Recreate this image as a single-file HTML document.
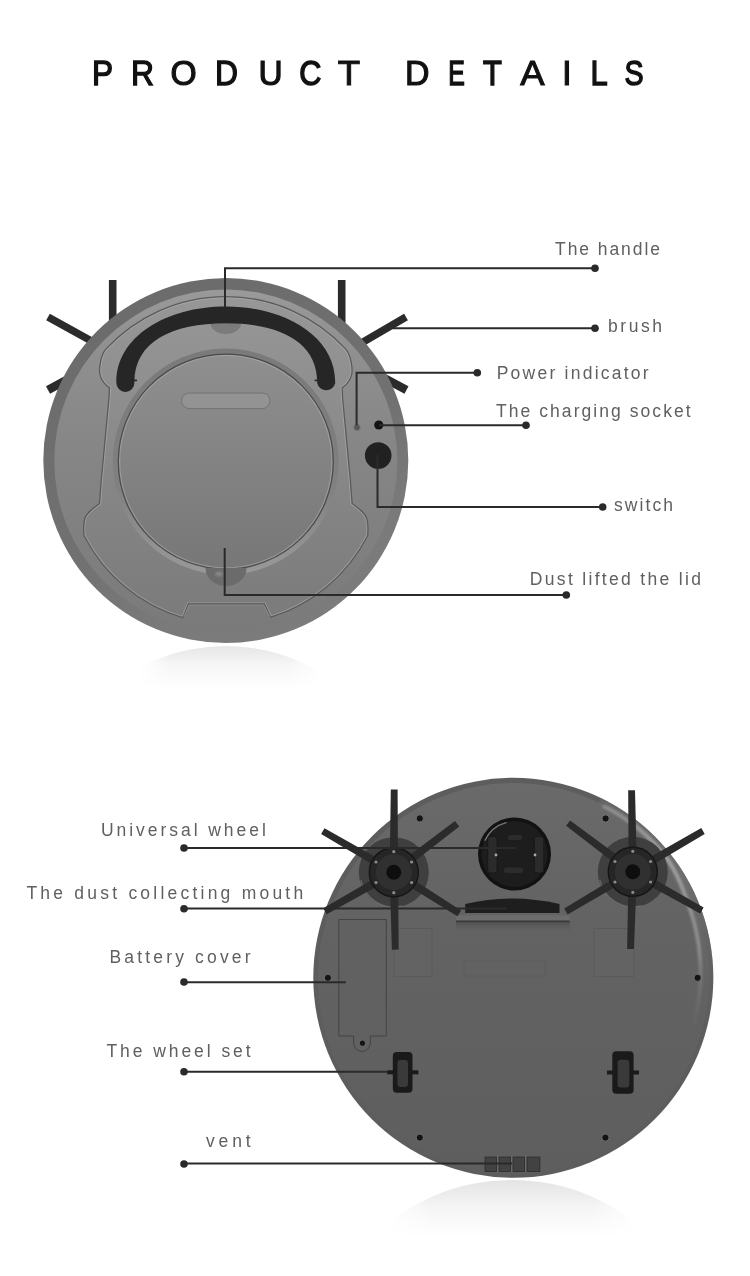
<!DOCTYPE html>
<html><head><meta charset="utf-8">
<style>
html,body{margin:0;padding:0;background:#fff;}
body{width:750px;height:1276px;overflow:hidden;position:relative;font-family:"Liberation Sans",sans-serif;}
svg{position:absolute;left:0;top:0;filter:grayscale(1);}
</style></head>
<body>
<svg width="750" height="1276" viewBox="0 0 750 1276">
<defs>
  <linearGradient id="hlG2" gradientUnits="userSpaceOnUse" x1="599.2" y1="801.6" x2="697.5" y2="1044.8">
    <stop offset="0" stop-color="#6c6c6c" stop-opacity="0.5"/>
    <stop offset="0.4" stop-color="#6e6e6e" stop-opacity="1"/>
    <stop offset="1" stop-color="#626262" stop-opacity="0"/>
  </linearGradient>
  <linearGradient id="shadeDown" x1="0" y1="0" x2="0" y2="1">
    <stop offset="0" stop-color="#4e4e4e" stop-opacity="0.8"/>
    <stop offset="1" stop-color="#5e5e5e" stop-opacity="0"/>
  </linearGradient>
  <linearGradient id="hfadeT" x1="0" y1="0" x2="1" y2="0">
    <stop offset="0" stop-color="#000"/>
    <stop offset="0.18" stop-color="#fff"/>
    <stop offset="0.82" stop-color="#fff"/>
    <stop offset="1" stop-color="#000"/>
  </linearGradient>
  <linearGradient id="hlG" gradientUnits="userSpaceOnUse" x1="604.4" y1="806.5" x2="692.1" y2="1029.1">
    <stop offset="0" stop-color="#9a9a9a" stop-opacity="0.7"/>
    <stop offset="0.3" stop-color="#a0a0a0" stop-opacity="1"/>
    <stop offset="0.7" stop-color="#8e8e8e" stop-opacity="0.9"/>
    <stop offset="1" stop-color="#7a7a7a" stop-opacity="0"/>
  </linearGradient>
  <filter id="blur1" x="-0.2" y="-0.2" width="1.4" height="1.4"><feGaussianBlur stdDeviation="0.8"/></filter>

  <linearGradient id="hfade" x1="0" y1="0" x2="1" y2="0">
    <stop offset="0" stop-color="#000"/>
    <stop offset="0.3" stop-color="#fff"/>
    <stop offset="0.7" stop-color="#fff"/>
    <stop offset="1" stop-color="#000"/>
  </linearGradient>
  <mask id="mTop" maskUnits="userSpaceOnUse" x="0" y="0" width="750" height="1276">
    <rect x="138" y="640" width="184" height="60" fill="url(#hfadeT)"/>
  </mask>
  <mask id="mBot" maskUnits="userSpaceOnUse" x="0" y="0" width="750" height="1276">
    <rect x="385" y="1175" width="255" height="65" fill="url(#hfadeT)"/>
  </mask>

  <linearGradient id="botG" x1="0" y1="0" x2="0" y2="1">
    <stop offset="0" stop-color="#6a6a6a"/>
    <stop offset="0.35" stop-color="#636363"/>
    <stop offset="1" stop-color="#5e5e5e"/>
  </linearGradient>
  <linearGradient id="reflBot" gradientUnits="userSpaceOnUse" x1="0" y1="1180" x2="0" y2="1236">
    <stop offset="0" stop-color="#e4e4e4"/>
    <stop offset="0.5" stop-color="#f5f5f5"/>
    <stop offset="1" stop-color="#ffffff"/>
  </linearGradient>

  <linearGradient id="rimG" x1="0.25" y1="0" x2="0.75" y2="1">
    <stop offset="0" stop-color="#6b6b6b"/>
    <stop offset="0.55" stop-color="#717171"/>
    <stop offset="0.8" stop-color="#7a7a7a"/>
    <stop offset="1" stop-color="#7c7c7c"/>
  </linearGradient>
  <linearGradient id="bodyG" x1="0" y1="0" x2="0" y2="1">
    <stop offset="0" stop-color="#9a9a9a"/>
    <stop offset="0.12" stop-color="#929292"/>
    <stop offset="0.45" stop-color="#868686"/>
    <stop offset="1" stop-color="#7a7a7a"/>
  </linearGradient>
  <linearGradient id="panelG" x1="0" y1="0" x2="0" y2="1">
    <stop offset="0" stop-color="#979797"/>
    <stop offset="0.35" stop-color="#8d8d8d"/>
    <stop offset="0.7" stop-color="#838383"/>
    <stop offset="1" stop-color="#7b7b7b"/>
  </linearGradient>
  <linearGradient id="lidRingG" x1="0" y1="0" x2="0" y2="1">
    <stop offset="0" stop-color="#7a7a7a"/>
    <stop offset="0.6" stop-color="#808080"/>
    <stop offset="1" stop-color="#999999"/>
  </linearGradient>
  <linearGradient id="lidG" x1="0" y1="0" x2="0" y2="1">
    <stop offset="0" stop-color="#8f8f8f"/>
    <stop offset="1" stop-color="#777777"/>
  </linearGradient>
  <linearGradient id="reflTop" gradientUnits="userSpaceOnUse" x1="0" y1="646" x2="0" y2="689">
    <stop offset="0" stop-color="#e6e6e6"/>
    <stop offset="0.45" stop-color="#f6f6f6"/>
    <stop offset="1" stop-color="#ffffff"/>
  </linearGradient>

  <radialGradient id="shadowTop" cx="0.5" cy="0.2" r="0.6">
    <stop offset="0" stop-color="#e6e6e6"/>
    <stop offset="1" stop-color="#ffffff"/>
  </radialGradient>
</defs>

<!-- TITLE -->
<g font-family="Liberation Sans" font-size="35" fill="#111" stroke="#111" stroke-width="1.1" text-anchor="middle">
  <text x="102.5" y="84.8" transform="translate(102.5,0) scale(0.900,1) translate(-102.5,0)" stroke-width="1.40">P</text>
  <text x="142.5" y="84.8" transform="translate(142.5,0) scale(0.909,1) translate(-142.5,0)" stroke-width="1.37">R</text>
  <text x="183.5" y="84.8" transform="translate(183.0,0) scale(0.962,1) translate(-183.0,0)" stroke-width="1.21">O</text>
  <text x="226.5" y="84.8" transform="translate(226.5,0) scale(0.909,1) translate(-226.5,0)" stroke-width="1.37">D</text>
  <text x="270.5" y="84.8" transform="translate(270.0,0) scale(0.955,1) translate(-270.0,0)" stroke-width="1.24">U</text>
  <text x="310.5" y="84.8" transform="translate(310.0,0) scale(0.875,1) translate(-310.0,0)" stroke-width="1.48">C</text>
  <text x="349.0" y="84.8" transform="translate(348.5,0) scale(1.048,1) translate(-348.5,0)" stroke-width="0.96">T</text>
  <text x="417.2" y="84.8" transform="translate(417.2,0) scale(0.970,1) translate(-417.2,0)" stroke-width="1.19">D</text>
  <text x="456.4" y="84.8" transform="translate(456.9,0) scale(0.710,1) translate(-456.9,0)" stroke-width="1.5">E</text>
  <text x="492.5" y="84.8" transform="translate(492.0,0) scale(0.882,1) translate(-492.0,0)" stroke-width="1.45">T</text>
  <text x="532.5" y="84.8" transform="translate(532.0,0) scale(1.042,1) translate(-532.0,0)" stroke-width="0.97">A</text>
  <text x="566.8" y="84.8" transform="translate(566.5,0) scale(1.000,1) translate(-566.5,0)" stroke-width="1.10">I</text>
  <text x="599.0" y="84.8" transform="translate(599.0,0) scale(0.882,1) translate(-599.0,0)" stroke-width="1.45">L</text>
  <text x="634.3" y="84.8" transform="translate(633.5,0) scale(0.818,1) translate(-633.5,0)" stroke-width="1.45">S</text>
</g>

<!-- ============ TOP ROBOT ============ -->
<g id="top">
  <!-- reflection -->
  <g mask="url(#mTop)"><circle cx="225.8" cy="829" r="183" fill="url(#reflTop)"/></g>
  <!-- brushes behind -->
  <g stroke="#2b2b2b" stroke-width="7.6" stroke-linecap="butt">
    <line x1="112.7" y1="280" x2="112.7" y2="330"/>
    <line x1="48" y1="317" x2="95" y2="343"/>
    <line x1="48" y1="390" x2="72" y2="377" stroke-width="8.5"/>
    <line x1="341.7" y1="280" x2="341.7" y2="330"/>
    <line x1="406" y1="317" x2="358" y2="345"/>
    <line x1="406.5" y1="390" x2="383" y2="377.5" stroke-width="8.5"/>
  </g>
  <circle cx="225.8" cy="460.5" r="182.5" fill="url(#rimG)"/>
  <circle cx="225.8" cy="461" r="171.5" fill="url(#bodyG)"/>
  <!-- panel region -->
  <clipPath id="panelClip"><path d="M106.6,348.4 A163,163 0 0 1 345.0,348.4 C351.6,355 352.5,370 351.8,374 C350.5,381 345,386 342.2,387.6 L342.6,398 L350.3,480 L352.1,503.4 C358,508 366,513 367.1,519.9 C368.5,527 368,532 367.7,535.5 A163,163 0 0 1 270.8,617.2 L264.4,604 L188.4,604 L182.8,617.7 A163,163 0 0 1 84.0,535.5 C83.6,532 83.1,527 84.5,519.9 C85.6,513 93.6,508 99.5,503.4 L101.3,480 L109,398 L109.4,387.6 C106.6,386 101.1,381 99.8,374 C99.1,370 100,355 106.6,348.4 Z"/></clipPath>
  <path id="panel" d="M106.6,348.4 A163,163 0 0 1 345.0,348.4 C351.6,355 352.5,370 351.8,374 C350.5,381 345,386 342.2,387.6 L342.6,398 L350.3,480 L352.1,503.4 C358,508 366,513 367.1,519.9 C368.5,527 368,532 367.7,535.5 A163,163 0 0 1 270.8,617.2 L264.4,604 L188.4,604 L182.8,617.7 A163,163 0 0 1 84.0,535.5 C83.6,532 83.1,527 84.5,519.9 C85.6,513 93.6,508 99.5,503.4 L101.3,480 L109,398 L109.4,387.6 C106.6,386 101.1,381 99.8,374 C99.1,370 100,355 106.6,348.4 Z" fill="url(#panelG)"/>
  <path d="M106.6,348.4 A163,163 0 0 1 345.0,348.4 C351.6,355 352.5,370 351.8,374 C350.5,381 345,386 342.2,387.6 L342.6,398 L350.3,480 L352.1,503.4 C358,508 366,513 367.1,519.9 C368.5,527 368,532 367.7,535.5 A163,163 0 0 1 270.8,617.2 L264.4,604 L188.4,604 L182.8,617.7 A163,163 0 0 1 84.0,535.5 C83.6,532 83.1,527 84.5,519.9 C85.6,513 93.6,508 99.5,503.4 L101.3,480 L109,398 L109.4,387.6 C106.6,386 101.1,381 99.8,374 C99.1,370 100,355 106.6,348.4 Z" fill="none" stroke="#b4b4b4" stroke-width="3.2" opacity="0.55" clip-path="url(#panelClip)"/>
  <path d="M106.6,348.4 A163,163 0 0 1 345.0,348.4 C351.6,355 352.5,370 351.8,374 C350.5,381 345,386 342.2,387.6 L342.6,398 L350.3,480 L352.1,503.4 C358,508 366,513 367.1,519.9 C368.5,527 368,532 367.7,535.5 A163,163 0 0 1 270.8,617.2 L264.4,604 L188.4,604 L182.8,617.7 A163,163 0 0 1 84.0,535.5 C83.6,532 83.1,527 84.5,519.9 C85.6,513 93.6,508 99.5,503.4 L101.3,480 L109,398 L109.4,387.6 C106.6,386 101.1,381 99.8,374 C99.1,370 100,355 106.6,348.4 Z" fill="none" stroke="#5a5a5a" stroke-width="1.3"/>
  <!-- lid ring + lid -->
  <circle cx="225.8" cy="461.6" r="113" fill="url(#lidRingG)"/>
  <circle cx="225.8" cy="461.6" r="107.5" fill="url(#lidG)"/>
  <circle cx="225.8" cy="461.6" r="106.2" fill="none" stroke="#b0b0b0" stroke-width="1.3" opacity="0.5"/>
  <circle cx="225.8" cy="461.6" r="107.5" fill="none" stroke="#4a4a4a" stroke-width="1.2"/>
  <!-- lid bottom bump -->
  <path d="M205.5,568 A20.5,18 0 0 0 246.5,568 Z" fill="#6b6b6b"/>
  <ellipse cx="219" cy="574" rx="4" ry="2.2" fill="#a0a0a0" opacity="0.55" filter="url(#blur1)"/>
  <!-- handle mount bump -->
  <path d="M210.3,323 A15.5,11 0 0 0 241.3,323 Z" fill="#7b7b7b"/>
  <!-- handle -->
  <path d="M116.4,382 C116.4,337 165.8,306.5 225.8,306.5 C285.8,306.5 335.2,337 335.2,382 L335.2,383 A9.2,9.2 0 0 1 317.2,383 L317.2,382 C317.2,342 279.8,323.3 225.8,323.3 C171.8,323.3 134.4,342 134.4,382 L134.4,383 A9,9 0 0 1 116.4,383 Z" fill="#262626"/>
  <rect x="134" y="379.6" width="3" height="1.6" fill="#262626"/>
  <rect x="314.6" y="379.6" width="3" height="1.6" fill="#262626"/>
  <!-- slot -->
  <rect x="181.5" y="393" width="88.5" height="15.6" rx="7.8" fill="#939393" stroke="#727272" stroke-width="1"/>
  <!-- ledge -->
  <path d="M183.5,616.5 L189.2,605 L263.6,605 L269.8,616.5" fill="none" stroke="#9a9a9a" stroke-width="1" opacity="0.6"/>
  <!-- indicator + socket + switch -->
  <circle cx="357" cy="427.4" r="3.2" fill="#555" stroke="#777" stroke-width="1"/>
  <circle cx="378.8" cy="425" r="4.6" fill="#141414"/>
  <circle cx="378.2" cy="455.5" r="13.3" fill="#212121"/>
</g>

<!-- ============ BOTTOM ROBOT ============ -->
<g id="bottom">
  <g mask="url(#mBot)"><circle cx="512" cy="1380" r="200" fill="url(#reflBot)"/></g>
  <circle cx="513.3" cy="977.8" r="200" fill="#5d5d5d"/>
  <circle cx="513.3" cy="978.5" r="195.5" fill="url(#botG)"/>
  <path d="M599.2,801.6 L605.8,805.0 L612.2,808.6 L618.5,812.4 L624.6,816.5 L630.6,820.8 L636.4,825.3 L642.1,830.0 L647.5,835.0 L652.8,840.1 L657.9,845.5 L662.8,851.0 L667.4,856.7 L671.9,862.6 L676.1,868.6 L680.1,874.8 L683.8,881.2 L687.3,887.6 L690.6,894.3 L693.6,901.0 L696.4,907.8 L698.9,914.7 L701.1,921.8 L703.1,928.9 L704.8,936.0 L706.2,943.2 L707.4,950.5 L708.3,957.8 L708.9,965.2 L709.2,972.5 L709.3,979.9 L709.1,987.3 L708.6,994.6 L707.8,1001.9 L706.8,1009.2 L705.4,1016.5 L703.9,1023.7 L702.0,1030.8 L699.9,1037.9 L697.5,1044.8" fill="none" stroke="url(#hlG2)" stroke-width="8"/>
  <path d="M604.4,806.5 L610.4,809.6 L616.3,813.0 L622.1,816.6 L627.7,820.3 L633.3,824.3 L638.6,828.4 L643.7,832.9 L648.7,837.6 L653.4,842.5 L658.0,847.5 L662.4,852.7 L666.6,858.0 L670.4,863.7 L673.7,869.6 L676.8,875.6 L679.6,881.8 L682.3,888.0 L684.7,894.2 L686.9,900.5 L689.2,906.7 L691.4,913.0 L693.3,919.3 L695.0,925.7 L696.4,932.1 L697.7,938.6 L698.7,945.1 L699.5,951.6 L700.1,958.2 L700.5,964.7 L700.7,971.3 L700.7,977.8 L700.4,984.3 L699.9,990.8 L699.2,997.3 L698.2,1003.8 L697.0,1010.2 L695.6,1016.5 L694.0,1022.8 L692.1,1029.1" fill="none" stroke="url(#hlG)" stroke-width="4" stroke-linecap="round" filter="url(#blur1)"/>
  <!-- faint rects -->
  <rect x="394" y="928.5" width="38" height="48" fill="#636363" stroke="#5a5a5a" stroke-width="1"/>
  <rect x="594" y="928.5" width="40" height="48" fill="#636363" stroke="#5a5a5a" stroke-width="1"/>
  <rect x="464" y="961" width="81" height="15" fill="none" stroke="#5c5c5c" stroke-width="0.8"/>
  <rect x="456" y="922.5" width="114" height="10" fill="url(#shadeDown)"/>
  <!-- battery cover -->
  <path d="M338.8,919.5 L386.3,919.5 L386.3,1036 L370.4,1036 L370.4,1043 A8.4,8.4 0 0 1 353.6,1043 L353.6,1036 L338.8,1036 Z" fill="#616161" stroke="#444" stroke-width="1"/>
  <!-- screws -->
  <g fill="#141414" stroke="#7c7c7c" stroke-width="0.8">
    <circle cx="419.8" cy="818.4" r="3.6"/>
    <circle cx="605.6" cy="818.5" r="3.6"/>
    <circle cx="327.9" cy="977.8" r="3.6"/>
    <circle cx="697.6" cy="977.8" r="3.6"/>
    <circle cx="419.8" cy="1137.6" r="3.6"/>
    <circle cx="605.4" cy="1137.6" r="3.6"/>
    <circle cx="362.4" cy="1043.2" r="3.2"/>
  </g>
  <!-- universal wheel -->
  <circle cx="514.5" cy="854" r="36.5" fill="#121212"/>
  <circle cx="514.5" cy="854" r="33" fill="#1d1d1d"/>
  <path d="M485.0,840.3 A32.5,32.5 0 0 1 506.1,822.6" fill="none" stroke="#777" stroke-width="1.3" stroke-linecap="round"/>
  <rect x="487.7" y="836.4" width="9.3" height="36.6" rx="3" fill="#2b2b2b" stroke="#151515" stroke-width="0.8"/>
  <rect x="534.3" y="836.4" width="9.5" height="36.6" rx="3" fill="#2b2b2b" stroke="#151515" stroke-width="0.8"/>
  <rect x="508" y="835" width="14" height="5" rx="2" fill="#2c2c2c"/>
  <rect x="504" y="867.6" width="19" height="5.4" rx="2" fill="#2c2c2c"/>
  <circle cx="496" cy="855" r="1.4" fill="#aaa"/>
  <circle cx="535" cy="855" r="1.4" fill="#aaa"/>
  <!-- dust mouth -->
  <path d="M465.2,913 L465.2,904 Q512,893 559.5,904 L559.5,913 Z" fill="#1e1e1e"/>
  <rect x="456" y="915.5" width="113.7" height="7" fill="#6c6c6c"/>
  <rect x="456" y="920.5" width="113.7" height="2" fill="#3a3a3a"/>
  <!-- brushes -->
  <circle cx="393.8" cy="872.2" r="35" fill="#3f3f3f"/>
  <path d="M360.8,880.2 A34,34 0 0 0 401.8,906.2" fill="none" stroke="#7a7a7a" stroke-width="1.2" opacity="0.7"/>
  <polygon points="398.0,872.2 397.6,789.6 390.8,789.6 389.6,872.2" fill="#2b2b2b"/>
  <polygon points="389.6,872.3 391.9,949.7 398.7,949.5 398.0,872.1" fill="#2b2b2b"/>
  <polygon points="395.9,868.6 324.5,828.3 321.1,834.1 391.7,875.8" fill="#2b2b2b"/>
  <polygon points="396.4,875.5 459.2,826.4 455.0,821.0 391.2,868.9" fill="#2b2b2b"/>
  <polygon points="391.7,868.5 323.2,908.2 326.6,914.2 395.9,875.9" fill="#2b2b2b"/>
  <polygon points="391.6,875.8 457.5,916.2 461.1,910.4 396.0,868.6" fill="#2b2b2b"/>
  <circle cx="393.8" cy="872.2" r="24.5" fill="#262626" stroke="#161616" stroke-width="1.5"/>
  <circle cx="393.8" cy="872.2" r="18" fill="#303030"/>
  <circle cx="393.8" cy="851.7" r="1.6" fill="#8a8a8a"/>
  <circle cx="411.6" cy="862.0" r="1.6" fill="#8a8a8a"/>
  <circle cx="411.6" cy="882.5" r="1.6" fill="#8a8a8a"/>
  <circle cx="393.8" cy="892.7" r="1.6" fill="#8a8a8a"/>
  <circle cx="376.0" cy="882.5" r="1.6" fill="#8a8a8a"/>
  <circle cx="376.0" cy="862.0" r="1.6" fill="#8a8a8a"/>
  <circle cx="393.8" cy="872.2" r="7.5" fill="#0e0e0e"/>
  <circle cx="632.8" cy="871.8" r="35" fill="#3f3f3f"/>
  <path d="M599.8,879.8 A34,34 0 0 0 640.8,905.8" fill="none" stroke="#7a7a7a" stroke-width="1.2" opacity="0.7"/>
  <polygon points="637.0,871.7 635.0,790.2 628.2,790.2 628.6,871.9" fill="#2b2b2b"/>
  <polygon points="628.6,871.7 627.1,948.9 633.9,949.1 637.0,871.9" fill="#2b2b2b"/>
  <polygon points="635.3,868.4 570.1,820.4 566.1,825.8 630.3,875.2" fill="#2b2b2b"/>
  <polygon points="634.9,875.4 704.7,833.9 701.3,828.1 630.7,868.2" fill="#2b2b2b"/>
  <polygon points="630.7,868.2 564.2,908.6 567.6,914.4 634.9,875.4" fill="#2b2b2b"/>
  <polygon points="630.8,875.5 700.2,913.4 703.6,907.4 634.8,868.1" fill="#2b2b2b"/>
  <circle cx="632.8" cy="871.8" r="24.5" fill="#262626" stroke="#161616" stroke-width="1.5"/>
  <circle cx="632.8" cy="871.8" r="18" fill="#303030"/>
  <circle cx="632.8" cy="851.3" r="1.6" fill="#8a8a8a"/>
  <circle cx="650.6" cy="861.5" r="1.6" fill="#8a8a8a"/>
  <circle cx="650.6" cy="882.0" r="1.6" fill="#8a8a8a"/>
  <circle cx="632.8" cy="892.3" r="1.6" fill="#8a8a8a"/>
  <circle cx="615.0" cy="882.0" r="1.6" fill="#8a8a8a"/>
  <circle cx="615.0" cy="861.5" r="1.6" fill="#8a8a8a"/>
  <circle cx="632.8" cy="871.8" r="7.5" fill="#0e0e0e"/>
  <!-- wheels -->
  <rect x="387.2" y="1070.3" width="31.2" height="4" fill="#1a1a1a"/>
  <rect x="392.8" y="1052" width="19.7" height="40.8" rx="4" fill="#1a1a1a"/>
  <rect x="397.5" y="1060" width="10.5" height="27" rx="3" fill="#3a3a3a"/>
  <rect x="607" y="1070.5" width="32" height="4" fill="#1a1a1a"/>
  <rect x="612.3" y="1051.2" width="21.3" height="42.6" rx="4" fill="#1a1a1a"/>
  <rect x="617.6" y="1059.7" width="11.7" height="27.7" rx="3" fill="#3a3a3a"/>
  <!-- vent -->
  <rect x="484.5" y="1156.5" width="56.5" height="15" fill="#6a6a6a"/>
  <g fill="#424242" stroke="#2a2a2a" stroke-width="0.8">
    <rect x="485" y="1157" width="11.5" height="14.5"/>
    <rect x="499" y="1157" width="11.5" height="14.5"/>
    <rect x="513" y="1157" width="11.5" height="14.5"/>
    <rect x="527" y="1157" width="13" height="14.5"/>
  </g>
</g>

<!-- LEADER LINES -->
<g stroke="#2a2a2a" stroke-width="2" fill="none">
  <polyline points="225,307 225,268.3 595,268.3"/>
  <line x1="392.5" y1="328.3" x2="595" y2="328.3"/>
  <polyline points="356.6,425 356.6,372.7 477.3,372.7"/>
  <line x1="379" y1="425.3" x2="526" y2="425.3"/>
  <polyline points="377.5,455 377.5,507 602.7,507"/>
  <polyline points="224.7,548 224.7,595 566.3,595"/>
  <line x1="184" y1="848" x2="516.5" y2="848"/>
  <line x1="184" y1="908.6" x2="507" y2="908.6"/>
  <line x1="184" y1="982.2" x2="345.8" y2="982.2"/>
  <line x1="184" y1="1071.7" x2="387" y2="1071.7"/>
  <line x1="184" y1="1163.6" x2="512" y2="1163.6"/>
</g>
<g fill="#2a2a2a">
  <circle cx="595" cy="268.3" r="3.8"/>
  <circle cx="595" cy="328.3" r="3.8"/>
  <circle cx="477.3" cy="372.7" r="3.8"/>
  <circle cx="526" cy="425.3" r="3.8"/>
  <circle cx="602.7" cy="507" r="3.8"/>
  <circle cx="566.3" cy="595" r="3.8"/>
  <circle cx="184" cy="848" r="3.8"/>
  <circle cx="184" cy="908.8" r="3.8"/>
  <circle cx="184" cy="982" r="3.8"/>
  <circle cx="184" cy="1071.7" r="3.8"/>
  <circle cx="184" cy="1164" r="3.8"/>
</g>

<!-- LABELS -->
<g font-family="Liberation Sans" font-size="17.5" fill="#606060">
  <text x="555" y="255" textLength="105.0" lengthAdjust="spacing">The handle</text>
  <text x="608.0" y="331.7" textLength="54.0" lengthAdjust="spacing">brush</text>
  <text x="496.7" y="379" textLength="151.9" lengthAdjust="spacing">Power indicator</text>
  <text x="496.0" y="416.7" textLength="194.6" lengthAdjust="spacing">The charging socket</text>
  <text x="614.0" y="510.8" textLength="59.1" lengthAdjust="spacing">switch</text>
  <text x="529.8" y="584.7" textLength="171.2" lengthAdjust="spacing">Dust lifted the lid</text>
  <text x="101.0" y="836" textLength="164.8" lengthAdjust="spacing">Universal wheel</text>
  <text x="26.4" y="898.8" textLength="276.8" lengthAdjust="spacing">The dust collecting mouth</text>
  <text x="109.4" y="963.3" textLength="141.2" lengthAdjust="spacing">Battery cover</text>
  <text x="106.4" y="1056.7" textLength="144.2" lengthAdjust="spacing">The wheel set</text>
  <text x="206.0" y="1146.7" textLength="44.6" lengthAdjust="spacing">vent</text>
</g>
</svg>
</body></html>
